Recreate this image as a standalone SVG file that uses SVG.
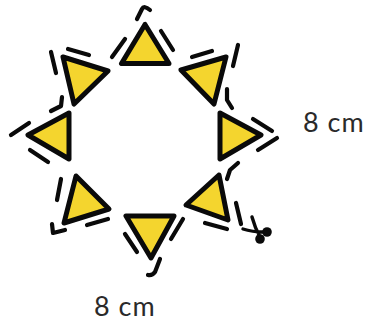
<svg xmlns="http://www.w3.org/2000/svg" width="370" height="327" viewBox="0 0 370 327">
<style>
.t{fill:#f4d52e;stroke:#0a0a0a;stroke-width:5;stroke-linejoin:round}
.d{fill:none;stroke:#0a0a0a;stroke-width:4.200;stroke-linecap:round;stroke-linejoin:round}
.l{font-family:"Lato","Liberation Sans",sans-serif;font-size:27px;letter-spacing:1px;fill:#2a2a2a}
</style>
<rect width="370" height="327" fill="#fff"/>
<g id="triangle-top"><polygon class="t" points="145,24.500 121.500,63.500 169,63.500"/></g>
<g id="triangle-top-right"><polygon class="t" points="226,57 181,70 214,104"/></g>
<g id="triangle-right"><polygon class="t" points="220,113 261,135 220,159"/></g>
<g id="triangle-bottom-right"><polygon class="t" points="219,175 186,205 228,220"/></g>
<g id="triangle-bottom"><polygon class="t" points="126,216 174,216 151,258"/></g>
<g id="triangle-bottom-left"><polygon class="t" points="76,176 109,209 64,223"/></g>
<g id="triangle-left"><polygon class="t" points="69,113 28,135 69,159"/></g>
<g id="triangle-top-left"><polygon class="t" points="63,57 108,71 74,104"/></g>
<g id="connectors">
<path class="d" d="M112,57L125,39M161,31L173,50M137,19L142,9Q144,5 150,10"/>
<path class="d" d="M192,57L212,51M233,66L238,45M227,89L227,100L232,108"/>
<path class="d" d="M253,119L272,131M258,150L277,138M227,179L230,170L238,163"/>
<path class="d" d="M205,223L227,229M236,203L241,224"/>
<path class="d" d="M125,234L137,252M171,239L183,219M160,259L155,272Q152,276 148,275"/>
<path class="d" d="M61,179L57,200M87,225L108,219M52,224L53,233L65,230"/>
<path class="d" d="M11,135L29,123M30,150L48,162"/>
<path class="d" d="M68,49L89,55M51,52L56,73M51,111L61,106L62,97"/>
</g>
<g id="scissors">
<path d="M243,229Q252,232 264,232M252,217Q255,228 260,237" fill="none" stroke="#0a0a0a" stroke-width="3.400" stroke-linecap="round"/>
<circle cx="267" cy="232" r="4.800" fill="#0a0a0a"/>
<circle cx="260" cy="239" r="4.800" fill="#0a0a0a"/>
</g>
<text class="l" x="303" y="132">8 cm</text>
<text class="l" x="94" y="316">8 cm</text>
</svg>
